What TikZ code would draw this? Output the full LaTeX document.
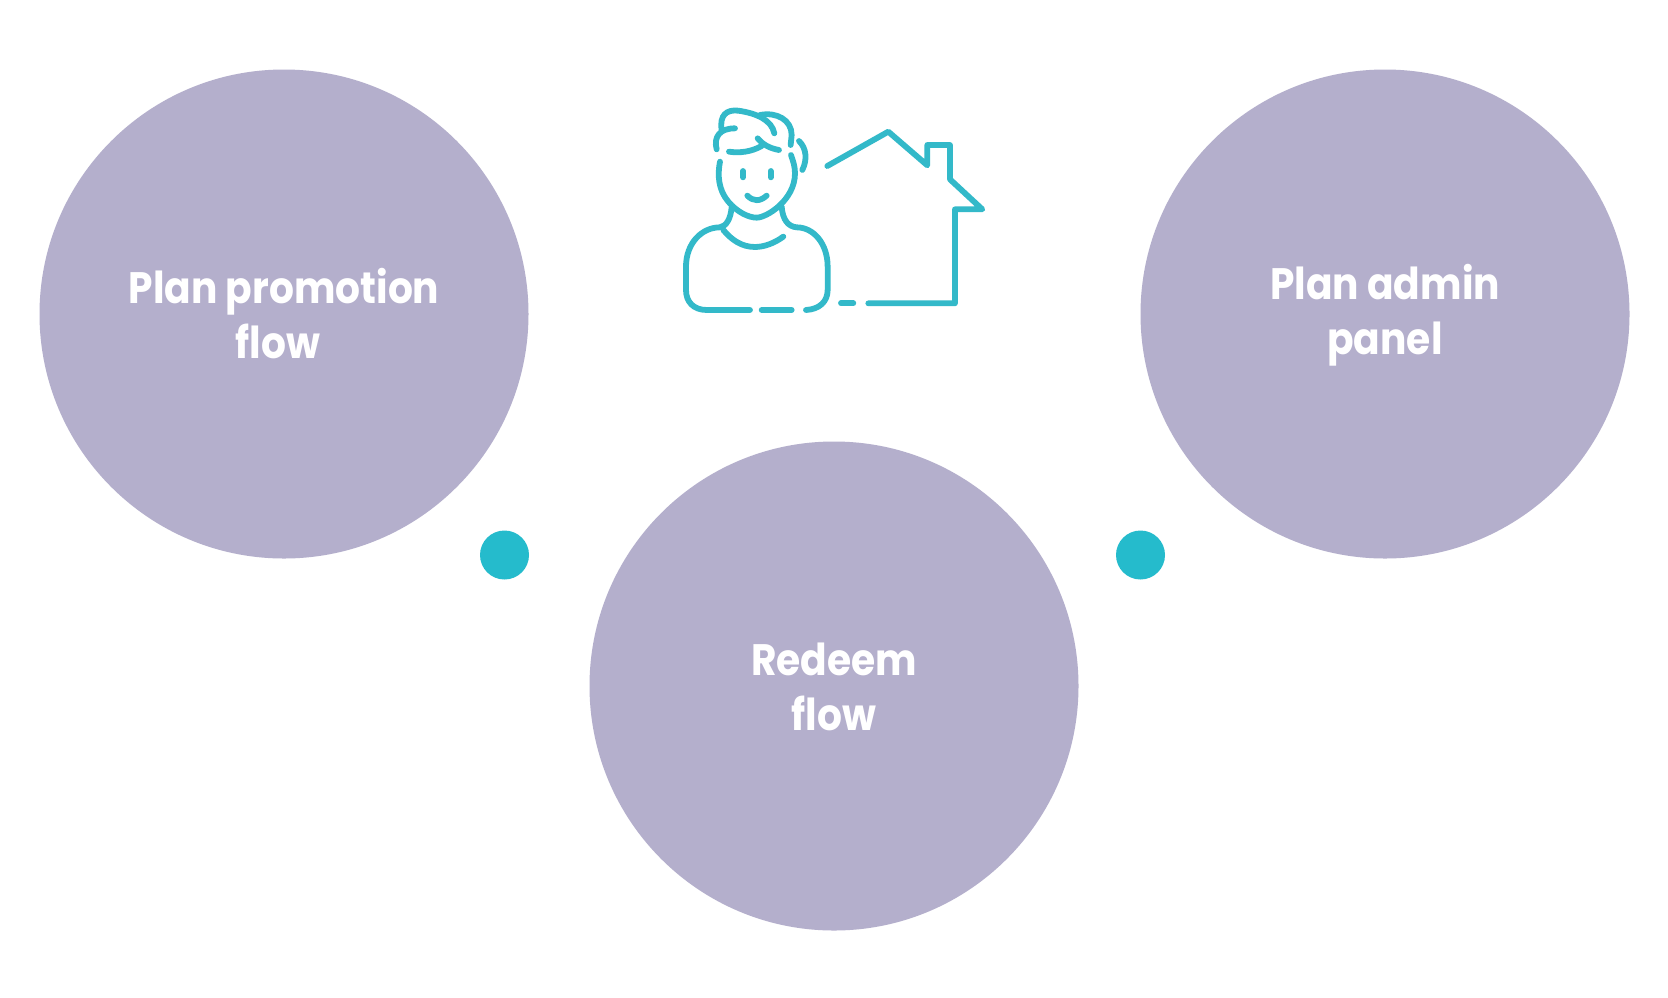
\documentclass[tikz,border=0pt]{standalone}
\usepackage{fontspec}
\setmainfont{Poppins}[BoldFeatures={FakeStretch=0.89}]
\definecolor{bubble}{HTML}{B4AFCC}
\definecolor{dotc}{HTML}{25BBCC}
\definecolor{iconc}{HTML}{33B9C9}
\tikzset{
  bubble/.style={circle,fill=bubble,minimum size=489pt,inner sep=0pt},
  bubbletext/.style={text=white,align=center,inner sep=0pt,font=\fontsize{44}{55}\selectfont\bfseries},
  tealdot/.style={circle,fill=dotc,minimum size=49pt,inner sep=0pt},
  iconline/.style={draw=iconc,line width=5.8pt,line cap=round,line join=round}
}
\begin{document}
\begin{tikzpicture}[x=1pt,y=-1pt]
\useasboundingbox (0,0) rectangle (1668,997);
\fill[white] (0,0) rectangle (1668,997);
\node[bubble] (promo) at (284,314) {};
\node[bubble] (redeem) at (834,686) {};
\node[bubble] (admin) at (1385,314) {};
\node[tealdot] (dotl) at (504.5,555) {};
\node[tealdot] (dotr) at (1140.5,555) {};
\node[bubbletext] (tpromo) at (284,314) {Plan promotion\\flow\kern12pt};
\node[bubbletext] (tredeem) at (834,687) {Redeem\\flow};
\node[bubbletext] (tadmin) at (1385,315) {Plan admin\\panel};
\begin{scope}[shift={(660,90)},x=0.3333pt,y=-0.3333pt,iconline]
  % body
  \draw (270,660) -- (140,660) .. controls (100,660) and (78,635) .. (78,600) -- (78,530)
     .. controls (78,460) and (125,412) .. (180,412) .. controls (200,408) and (212,385) .. (215,352);
  \draw (305,660) -- (395,660);
  \draw (438,660) .. controls (478,658) and (503,635) .. (503,600) -- (503,530)
     .. controls (503,460) and (460,412) .. (410,412) .. controls (385,410) and (368,390) .. (365,350);
  \draw (190,420) .. controls (215,450) and (245,471) .. (285,471) .. controls (315,471) and (345,458) .. (370,440);
  % face
  \draw (180,215) .. controls (172,255) and (175,300) .. (205,335) .. controls (230,365) and (265,383) .. (290,383)
     .. controls (320,383) and (405,330) .. (405,250) .. controls (405,230) and (400,215) .. (393,195);
  \draw (249,243) -- (249,262);
  \draw (332,243) -- (332,262);
  \draw (262,317) .. controls (280,335) and (300,335) .. (320,317);
  % hair
  \draw (207,185) .. controls (240,190) and (275,185) .. (305,168);
  \draw (293,145) .. controls (310,165) and (330,175) .. (357,180);
  \draw (170,178) .. controls (160,140) and (180,115) .. (225,115);
  \draw (185,120) .. controls (178,75) and (200,58) .. (235,62) .. controls (290,70) and (335,90) .. (343,130);
  \draw (300,75) .. controls (350,65) and (395,90) .. (395,135) -- (392,165);
  \draw (417,153) .. controls (440,175) and (442,210) .. (427,240);
  % house
  \draw (502,228) -- (685,125) -- (802,226) -- (802,165) -- (870,165) -- (870,268) -- (967,358) -- (885,358) -- (885,640) -- (625,640);
  \draw (543,640) -- (580,640);
\end{scope}
\end{tikzpicture}
\end{document}
